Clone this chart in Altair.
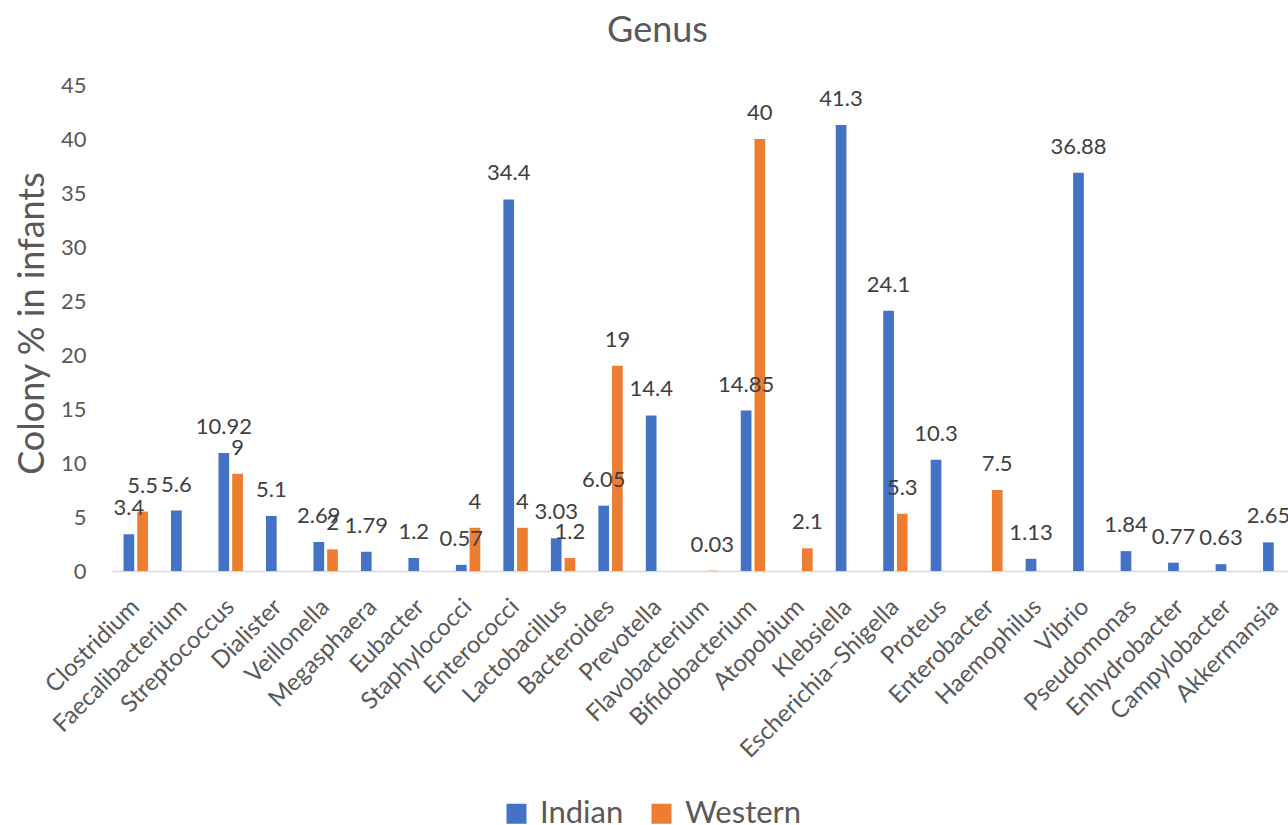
import altair as alt
import pandas as pd

genera = ["Clostridium", "Faecalibacterium", "Streptococcus", "Dialister", "Veillonella",
          "Megasphaera", "Eubacter", "Staphylococci", "Enterococci", "Lactobacillus",
          "Bacteroides", "Prevotella", "Flavobacterium", "Bifidobacterium", "Atopobium",
          "Klebsiella", "Escherichia\u2013Shigella", "Proteus", "Enterobacter", "Haemophilus",
          "Vibrio", "Pseudomonas", "Enhydrobacter", "Campylobacter", "Akkermansia"]
indian = [3.4, 5.6, 10.92, 5.1, 2.69, 1.79, 1.2, 0.57, 34.4, 3.03,
          6.05, 14.4, None, 14.85, None, 41.3, 24.1, 10.3, None, 1.13,
          36.88, 1.84, 0.77, 0.63, 2.65]
western = [5.5, None, 9, None, 2, None, None, 4, 4, 1.2,
           19, None, 0.03, 40, 2.1, None, 5.3, None, 7.5, None,
           None, None, None, None, None]
series_names = ["Indian", "Western"]
series_colors = ["#4472C4", "#ED7D31"]
y_ticks = [0, 5, 10, 15, 20, 25, 30, 35, 40, 45]

rows = []
for g, i, w in zip(genera, indian, western):
    for s, v in (("Indian", i), ("Western", w)):
        if v is not None:
            rows.append({"genus": g, "series": s, "value": v, "label": f"{v:g}"})
df = pd.DataFrame(rows)

FONT = "Lato"
GREY = "#595959"

x_enc = alt.X(
    "genus:N", sort=genera,
    scale=alt.Scale(paddingInner=0.486, paddingOuter=0.243),
    axis=alt.Axis(title=None, labelAngle=-45, labelAlign="right", labelBaseline="middle",
                  labelPadding=32, labelOffset=0, labelFont=FONT, labelFontSize=24,
                  labelColor=GREY, ticks=False, domainColor="#D9D9D9", domainWidth=1.5,
                  labelOverlap=False, labelLimit=400),
)
xo_enc = alt.XOffset("series:N", sort=series_names,
                     scale=alt.Scale(domain=series_names, paddingInner=0.219, paddingOuter=0))
y_enc = alt.Y(
    "value:Q",
    scale=alt.Scale(domain=[0, 45], nice=False),
    axis=alt.Axis(values=y_ticks, grid=False, domain=False, ticks=False, labelPadding=26,
                  labelFont=FONT, labelFontSize=22, labelColor=GREY,
                  title="Colony % in infants", titleFont=FONT, titleFontSize=36,
                  titleFontWeight="normal", titleColor=GREY, titleX=-69, titleY=238,
                  titleAngle=-90, titleAlign="center", titleBaseline="alphabetic"),
)
color_enc = alt.Color(
    "series:N", scale=alt.Scale(domain=series_names, range=series_colors),
    legend=alt.Legend(title=None, orient="none", legendX=389, legendY=713,
                      direction="horizontal", symbolType="square", symbolSize=400,
                      symbolStrokeWidth=0, labelFont=FONT, labelFontSize=31,
                      labelColor=GREY, labelOffset=8, columnPadding=22, padding=0),
)

bars = alt.Chart(df).mark_bar().encode(x=x_enc, xOffset=xo_enc, y=y_enc, color=color_enc)
labels = alt.Chart(df).mark_text(dy=-19, baseline="alphabetic", align="center", font=FONT,
                                 fontSize=22, color="#404040").encode(
    x=x_enc, xOffset=xo_enc, y=y_enc, text="label:N")

chart = alt.layer(bars, labels).properties(
    width=1187, height=486,
    title=alt.TitleParams("Genus", font=FONT, fontSize=36, color=GREY, fontWeight="normal",
                          anchor="middle", frame="group", dx=-48, offset=24),
    autosize=alt.AutoSizeParams(type="none"),
    padding={"left": 112, "top": 85, "right": -11, "bottom": 254},
    background="white",
).configure_view(stroke=None)

chart.save("out.html", embed_options={"renderer": "svg", "actions": False})
